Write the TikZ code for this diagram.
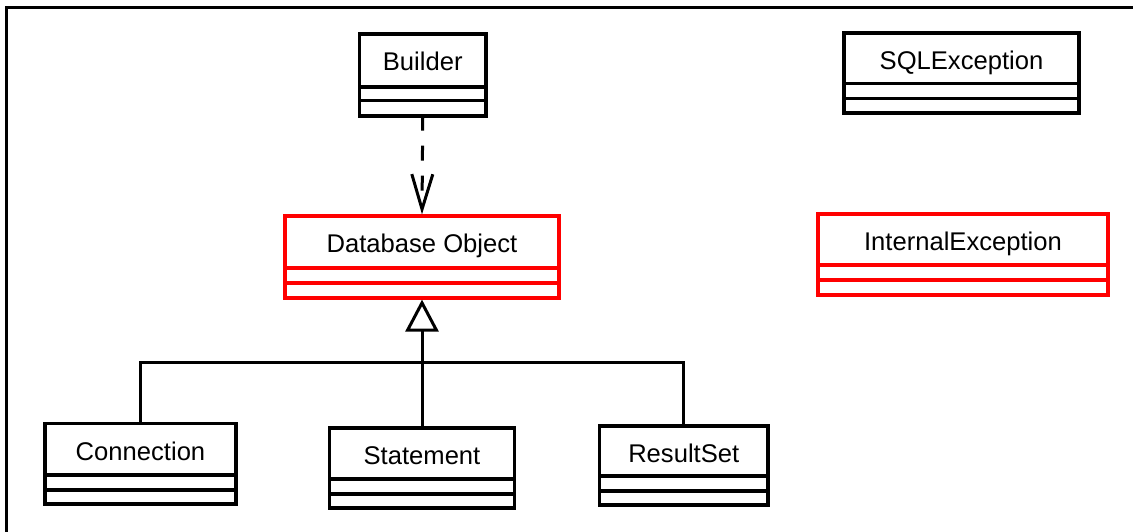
\documentclass[tikz,border=0pt]{standalone}
\usepackage{fontspec}
\setmainfont{Liberation Sans}
\usetikzlibrary{arrows.meta,fit}

\tikzset{
  classframe/.style={draw, line width=3.2pt, inner sep=0pt},
  divider/.style={line width=3.2pt},
  classname/.style={font=\fontsize{25.6}{30}\selectfont, inner sep=0pt, anchor=base},
  link/.style={line width=3pt},
  framebox/.style={line width=3pt},
}

% \umlclass{name}{colour}{left}{top}{right}{bottom}{divider 1}{divider 2}{label}
\newcommand\umlclass[9]{%
  \node[classframe, draw=#2, fit={(#3,#4) (#5,#6)}] (#1) {};
  \draw[divider, #2] (#3,#7) -- (#5,#7) (#3,#8) -- (#5,#8);
  \node[classname] (#1-label) at ({(#3+#5)/2},{#4+36.5}) {#9};
}

\begin{document}
\begin{tikzpicture}[x=1pt, y=-1pt]
  \useasboundingbox (0,0) rectangle (1133,532);

  % outer frame: only its left and top edges fall on the page
  \begin{scope}
    \clip (0,0) rectangle (1133,532);
    \draw[framebox] (6.5,560) -- (6.5,8) -- (1160,8);
  \end{scope}

  % classes
  \umlclass{builder}{black}{359.5}{34}{486}{116}{87}{100.5}{Builder}
  \umlclass{sqlex}{black}{844}{33}{1079}{113}{83.5}{98.5}{SQLException}
  \umlclass{dbobj}{red}{285}{216}{559}{298}{268}{283}{Database Object}
  \umlclass{intex}{red}{818}{214}{1108}{295}{265}{280}{InternalException}
  \umlclass{conn}{black}{45}{423.5}{236}{504}{475}{490}{Connection}
  \umlclass{stmt}{black}{329.5}{428}{514.5}{508}{479}{494}{Statement}
  \umlclass{rset}{black}{599.5}{426}{768}{505}{476}{491}{ResultSet}

  % dependency: Builder uses Database Object
  \draw[link, dash pattern=on 15pt off 15pt, dash phase=2pt,
        -{Straight Barb[length=35pt, width=21pt]}]
    (builder.south) -- (dbobj.north);

  % generalisation tree
  \coordinate (bus) at (422,362);
  \draw[link] (conn.north) |- (bus) -| (rset.north);
  \draw[link, -{Triangle[open, length=32pt, width=33pt]}]
    (stmt.north) -- (dbobj.south);
\end{tikzpicture}
\end{document}
